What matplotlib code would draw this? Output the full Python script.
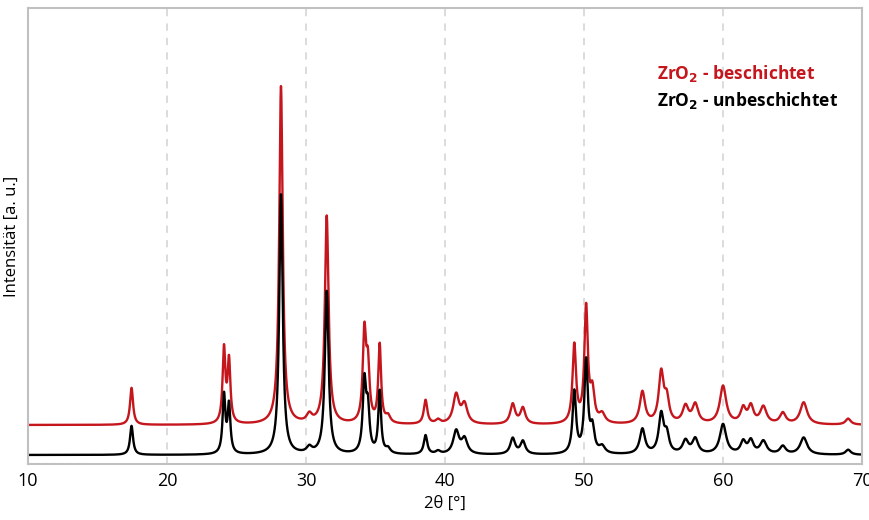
import numpy as np
import matplotlib.pyplot as plt

plt.rcParams['font.family'] = ['Open Sans', 'DejaVu Sans']

# =====================================
# DATEN (Reflexe)
# =====================================

# Reflexlagen 2theta [deg]
pos = [17.45, 24.1, 24.46, 28.2, 30.24, 31.49, 34.2, 34.45, 35.3, 35.9,
       38.6, 39.5, 40.8, 41.4, 44.87, 45.6, 49.3, 50.15, 50.6, 51.3,
       54.2, 55.55, 55.95, 57.3, 58.0, 60.0, 61.45, 62.0, 62.9, 64.3,
       65.8, 69.0]

# Halbwertsbreiten [deg]
fwhm = [0.26, 0.24, 0.24, 0.3, 0.45, 0.32, 0.28, 0.28, 0.24, 0.4,
        0.3, 0.4, 0.5, 0.5, 0.42, 0.42, 0.3, 0.3, 0.35, 0.5,
        0.45, 0.42, 0.4, 0.5, 0.5, 0.55, 0.45, 0.45, 0.55, 0.5,
        0.6, 0.45]

# Intensitaeten (beschichtet / unbeschichtet)
int_besch = [37, 74, 62, 338, 8, 208, 88, 54, 78, 7,
             24, 4, 29, 19, 20, 16, 78, 115, 30, 9,
             32, 50, 23, 17, 19, 38, 15, 17, 17, 11,
             22, 6]
int_unbesch = [29, 58, 48, 260, 6, 163, 70, 42, 62, 5,
               19, 3, 23, 15, 16, 13, 62, 92, 24, 7,
               25, 39, 18, 13, 15, 30, 12, 13, 13, 8,
               17, 5]

basis_besch = 39
basis_unbesch = 9

# =====================================
# KURVEN
# =====================================

tt = np.linspace(10, 70, 6001)

def muster(hoehen, basis):
    y = np.full_like(tt, basis, dtype=float)
    for p, w, h in zip(pos, fwhm, hoehen):
        y += h / (1 + ((tt - p) / (w / 2))**2)
    return y

y_besch = muster(int_besch, basis_besch)
y_unbesch = muster(int_unbesch, basis_unbesch)

# =====================================
# FIGUR
# =====================================

fig = plt.figure(figsize=(8.69, 5.2), dpi=100)
ax = fig.add_axes([0.0322, 0.1077, 0.9598, 0.877])

rot = '#c5161d'
ax.plot(tt, y_besch, color=rot, lw=1.7)
ax.plot(tt, y_unbesch, color='black', lw=1.7)

ax.set_xlim(10, 70)
ax.set_ylim(0, 456)
ax.set_xticks([10, 20, 30, 40, 50, 60, 70])
ax.set_yticks([])
ax.tick_params(axis='x', length=0, labelsize=13, pad=6)

for x in [20, 30, 40, 50, 60]:
    ax.axvline(x, color='#d9d9d9', lw=1.3, ls=(0, (4, 4)), zorder=0)

for s in ax.spines.values():
    s.set_color('#c0c0c0')
    s.set_linewidth(1.5)

ax.set_xlabel('2θ [°]', fontsize=12, labelpad=4)
ax.set_ylabel('Intensität [a. u.]', fontsize=12, labelpad=6)

ax.text(0.754, 0.857, r'ZrO$_\mathbf{2}$ - beschichtet', transform=ax.transAxes,
        color=rot, fontsize=12.5, fontweight='bold', va='center')
ax.text(0.754, 0.798, r'ZrO$_\mathbf{2}$ - unbeschichtet', transform=ax.transAxes,
        color='black', fontsize=12.5, fontweight='bold', va='center')

plt.savefig('out.png', dpi=100)
